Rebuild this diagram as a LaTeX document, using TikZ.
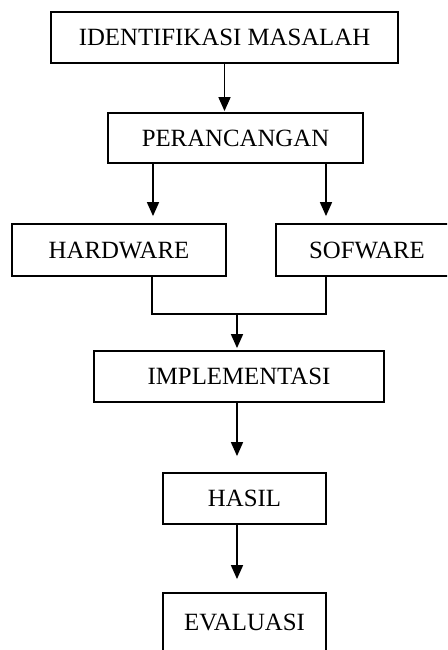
\documentclass[tikz,border=0pt]{standalone}
\usepackage{fontspec}
\setmainfont{Liberation Serif}
\usepackage{tikz}
\usetikzlibrary{arrows.meta}

\begin{document}
\begin{tikzpicture}[x=1pt,y=-1pt,>={Triangle[width=12pt,length=14pt]},
        panah/.style={->,line width=1.6pt},
        garis/.style={line width=1.6pt},
        kotak/.style={draw,line width=1.8pt,inner sep=0pt,minimum height=51pt,
          font=\fontsize{24.8}{29}\selectfont}]

        \clip (0,0) rectangle (447,650);

        \node at (224.5,37.5) [kotak,minimum width=347pt] (ident) {IDENTIFIKASI MASALAH};
        \node at (235.5,138) [kotak,minimum width=255pt,minimum height=50pt] (peranc) {PERANCANGAN};
        \node at (119,250) [kotak,minimum width=214pt,minimum height=52pt] (hw) {HARDWARE};
        \node at (367,250) [kotak,minimum width=182pt,minimum height=52pt] (sw) {SOFWARE};
        \node at (239,376.5) [kotak,minimum width=290pt] (impl) {IMPLEMENTASI};
        \node at (244.5,498.5) [kotak,minimum width=163pt] (hasil) {HASIL};
        \node at (244.5,622.5) [kotak,minimum width=163pt,minimum height=59pt] (eval) {EVALUASI};

        \coordinate (gabung) at (237,314);

        \draw[panah,shorten >=1pt] (ident.south) -- (ident.south |- peranc.north);
        \draw[panah,shorten >=7pt] ([xshift=-82.5pt]peranc.south) -- ([xshift=-82.5pt]peranc.south |- hw.north);
        \draw[panah,shorten >=7pt] ([xshift=90.5pt]peranc.south) -- ([xshift=90.5pt]peranc.south |- sw.north);

        % gabungan hardware dan software
        \draw[garis] ([xshift=33pt]hw.south) |- (gabung) -| ([xshift=-41pt]sw.south);
        \draw[panah,shorten >=2pt] (gabung) -- (gabung |- impl.north);

        \draw[panah,shorten >=16pt] (impl.south -| gabung) -- (hasil.north -| gabung);
        \draw[panah,shorten >=13pt] (hasil.south -| gabung) -- (eval.north -| gabung);

      \end{tikzpicture}
\end{document}
